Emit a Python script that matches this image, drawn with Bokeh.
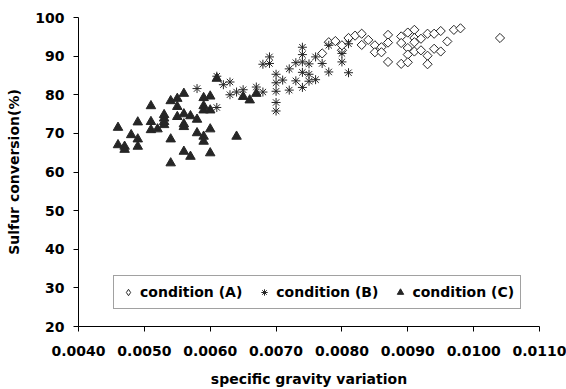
from bokeh.plotting import figure
from bokeh.models import Range1d, FixedTicker, NumeralTickFormatter, Legend, LegendItem
from bokeh.embed import file_html
from bokeh.resources import INLINE
import numpy as np

# condition (A) - diamonds
a_x = [0.0077, 0.0078, 0.0079, 0.0080, 0.0080, 0.0081, 0.0082, 0.0083, 0.0083, 0.0084,
       0.0085, 0.0085, 0.0086, 0.0086, 0.0087, 0.0087, 0.0087, 0.0089, 0.0089, 0.0089,
       0.0090, 0.0090, 0.0090, 0.0090, 0.0091, 0.0091, 0.0091, 0.0091, 0.0092, 0.0092,
       0.0093, 0.0093, 0.0093, 0.0094, 0.0094, 0.0095, 0.0095, 0.0096, 0.0097, 0.0098,
       0.0104]
a_y = [90.7, 93.6, 93.9, 91.5, 92.8, 94.7, 95.3, 95.8, 92.9, 94.2,
       92.8, 91.0, 92.3, 91.0, 95.5, 93.5, 88.5, 95.1, 93.4, 88.0,
       96.1, 92.1, 90.4, 88.4, 96.8, 94.7, 93.6, 91.2, 94.5, 91.5,
       95.8, 90.1, 87.9, 95.8, 91.9, 96.5, 91.2, 93.8, 96.8, 97.2,
       94.7]

# condition (B) - asterisks
b_x = [0.0058, 0.0061, 0.0061, 0.0062, 0.0063, 0.0063, 0.0064, 0.0065, 0.0067, 0.0068,
       0.0068, 0.0069, 0.0069, 0.0070, 0.0070, 0.0070, 0.0070, 0.0070, 0.0071, 0.0072,
       0.0072, 0.0073, 0.0073, 0.0074, 0.0074, 0.0074, 0.0074, 0.0074, 0.0075, 0.0075,
       0.0075, 0.0076, 0.0076, 0.0077, 0.0078, 0.0078, 0.0080, 0.0080, 0.0081, 0.0081]
b_y = [81.6, 84.8, 76.7, 82.6, 83.3, 80.0, 80.7, 81.3, 82.0, 87.9,
       80.7, 89.8, 88.1, 85.3, 83.1, 80.9, 78.0, 75.8, 83.8, 86.7,
       81.2, 88.3, 83.6, 92.3, 90.4, 88.5, 85.8, 81.9, 88.0, 85.3,
       83.5, 89.8, 83.9, 88.1, 92.8, 85.9, 88.5, 90.7, 85.7, 93.2]

# condition (C) - triangles
c_x = [0.0046, 0.0046, 0.0047, 0.0047, 0.0048, 0.0049, 0.0049, 0.0049, 0.0051, 0.0051,
       0.0051, 0.0052, 0.0053, 0.0053, 0.0053, 0.0053, 0.0054, 0.0054, 0.0054, 0.0055,
       0.0055, 0.0055, 0.0056, 0.0056, 0.0056, 0.0056, 0.0056, 0.0057, 0.0057, 0.0058,
       0.0058, 0.0059, 0.0059, 0.0059, 0.0059, 0.0059, 0.0060, 0.0060, 0.0060, 0.0060,
       0.0061, 0.0064, 0.0065, 0.0066, 0.0067]
c_y = [71.5, 67.0, 66.6, 65.8, 69.6, 72.9, 68.5, 66.6, 77.1, 73.0,
       70.9, 71.1, 74.8, 73.9, 73.0, 72.2, 78.4, 68.5, 62.3, 79.0,
       76.9, 74.3, 80.3, 75.0, 72.4, 71.7, 65.3, 74.5, 64.0, 73.6,
       70.1, 79.2, 77.1, 76.0, 69.2, 67.9, 79.6, 76.0, 71.1, 64.9,
       84.2, 69.2, 79.5, 78.6, 80.3]

x_ticks = [0.004, 0.005, 0.006, 0.007, 0.008, 0.009, 0.010, 0.011]
y_ticks = [20, 30, 40, 50, 60, 70, 80, 90, 100]
labels = ["condition (A)", "condition (B)", "condition (C)"]

FONT = "DejaVu Sans"
INK = "#262626"

p = figure(width=566, height=389, output_backend="svg", toolbar_location=None,
           x_range=Range1d(0.004, 0.011), y_range=Range1d(20, 100),
           min_border_left=78, min_border_right=27, min_border_top=17, min_border_bottom=61)
p.outline_line_color = None
p.xgrid.visible = False
p.ygrid.visible = False
p.background_fill_color = "white"
p.border_fill_color = "white"

# legend symbol for condition (A): diamond glyph on the same data, drawn at zero size in the plot
ra_leg = p.scatter(a_x, a_y, marker="diamond", size=0,
                   fill_color="white", line_color=INK, line_width=1)
ra = p.scatter(a_x, a_y, marker="square", angle=np.pi / 4, size=6.5,
               fill_color="white", line_color=INK, line_width=1)
rb = p.scatter(b_x, b_y, marker="asterisk", size=9, line_color=INK, line_width=1)
rc = p.scatter(c_x, c_y, marker="triangle", size=9.5, fill_color=INK, line_color=INK)

for ax in (p.xaxis[0], p.yaxis[0]):
    ax.major_label_text_font = FONT
    ax.major_label_text_font_style = "bold"
    ax.major_label_text_font_size = "14px"
    ax.major_label_text_color = "black"
    ax.axis_label_text_font = FONT
    ax.axis_label_text_font_style = "bold"
    ax.axis_label_text_font_size = "14px"
    ax.axis_label_text_color = "black"
    ax.axis_line_color = "black"
    ax.major_tick_line_color = "black"
    ax.major_tick_in = 0
    ax.major_tick_out = 5
    ax.minor_tick_line_color = None

p.xaxis[0].ticker = FixedTicker(ticks=x_ticks)
p.xaxis[0].formatter = NumeralTickFormatter(format="0.0000")
p.xaxis[0].axis_label = "specific gravity variation"
p.xaxis[0].major_label_standoff = 14
p.xaxis[0].axis_label_standoff = 12

p.yaxis[0].ticker = FixedTicker(ticks=y_ticks)
p.yaxis[0].axis_label = "Sulfur conversion(%)"
p.yaxis[0].major_label_standoff = 9
p.yaxis[0].axis_label_standoff = 10

legend = Legend(items=[LegendItem(label=labels[0], renderers=[ra_leg]),
                       LegendItem(label=labels[1], renderers=[rb]),
                       LegendItem(label=labels[2], renderers=[rc])],
                location=(35, 17), orientation="horizontal",
                label_text_font=FONT, label_text_font_style="bold",
                label_text_font_size="14px", label_text_color="black",
                glyph_width=16, glyph_height=16, label_standoff=4, spacing=14,
                padding=6, margin=0, label_height=20,
                border_line_color="#444444", border_line_width=1,
                background_fill_color="white", background_fill_alpha=1)
p.add_layout(legend, "center")

open("out.html", "w").write(file_html(p, INLINE))
